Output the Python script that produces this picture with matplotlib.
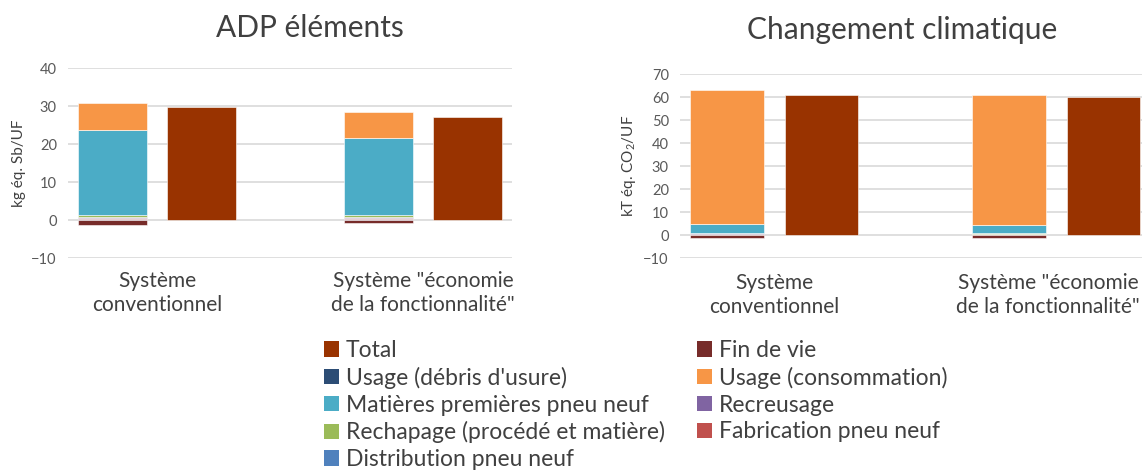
import matplotlib.pyplot as plt
from matplotlib.patches import Patch

plt.rcParams['font.family'] = ['Lato', 'DejaVu Sans']

categories = ['Système\nconventionnel', 'Système "économie\nde la fonctionnalité"']

# stacked contributions (bottom -> top), then the negative end-of-life part
series_names = ['Distribution pneu neuf', 'Fabrication pneu neuf', 'Recreusage',
                'Rechapage (procédé et matière)', 'Matières premières pneu neuf',
                "Usage (débris d'usure)", 'Usage (consommation)']
series_colors = ['#4F81BD', '#C0504D', '#8064A2', '#9BBB59', '#4BACC6', '#2C4D75', '#F79646']

# ADP éléments (kg éq. Sb/UF)
adp_stack = [
    [0.3, 0.3],     # distribution
    [0.2, 0.2],     # fabrication
    [0.3, 0.3],     # recreusage
    [0.6, 0.5],     # rechapage
    [22.3, 20.2],   # matières premières
    [0.05, 0.05],   # usage débris
    [7.1, 7.0],     # usage consommation
]
adp_fin_de_vie = [-1.3, -0.9]
adp_total = [29.7, 27.1]

# Changement climatique (kT éq. CO2/UF)
cc_stack = [
    [0.2, 0.2],
    [0.3, 0.2],
    [0.2, 0.2],
    [0.3, 0.3],
    [3.8, 3.3],
    [0.05, 0.05],
    [58.0, 56.8],
]
cc_fin_de_vie = [-1.2, -1.3]
cc_total = [61.0, 59.9]

fin_color = '#772C2A'
total_color = '#993300'
grid_color = '#D9D9D9'
text_color = '#595959'

fig = plt.figure(figsize=(11.42, 4.70), dpi=100)
ax1 = fig.add_axes([0.0595, 0.451, 0.3888, 0.404])
ax2 = fig.add_axes([0.5954, 0.451, 0.4124, 0.3915])

w = 0.26
off = 0.168


def draw(ax, stack, fin, total, ylim, yticks, ylabel, label_shift, label_drop):
    x = range(len(categories))
    xs = [i - off for i in x]
    xt = [i + off for i in x]
    bottom = [0.0] * len(categories)
    for vals, col in zip(stack, series_colors):
        ax.bar(xs, vals, w, bottom=bottom, color=col, edgecolor='white', linewidth=0.4, zorder=3)
        bottom = [b + v for b, v in zip(bottom, vals)]
    ax.bar(xs, fin, w, color=fin_color, edgecolor='white', linewidth=0.4, zorder=3)
    ax.bar(xt, total, w, color=total_color, edgecolor='white', linewidth=0.4, zorder=3)
    ax.set_xlim(-0.335, 1.335)
    ax.set_ylim(*ylim)
    ax.set_yticks(yticks)
    ax.yaxis.grid(True, color=grid_color, linewidth=1.2, zorder=0)
    for s in ax.spines.values():
        s.set_visible(False)
    ax.tick_params(axis='both', length=0, colors=text_color)
    ax.tick_params(axis='y', labelsize=10.5, pad=8)
    ax.set_xticks([])
    # category labels (the last one nudged left so it stays inside the figure)
    for i, lab in enumerate(categories):
        ax.annotate(lab, xy=(i, 0), xycoords=('data', 'axes fraction'),
                    xytext=(label_shift[i], -label_drop), textcoords='offset points',
                    ha='center', va='top', fontsize=15, color='#404040', linespacing=1.25)
    ax.set_ylabel(ylabel, fontsize=11, color='#404040')


draw(ax1, adp_stack, adp_fin_de_vie, adp_total, (-10, 40), range(-10, 41, 10), 'kg éq. Sb/UF',
     [0, 0], 9)
draw(ax2, cc_stack, cc_fin_de_vie, cc_total, (-10, 70), range(-10, 71, 10),
     r'kT éq. CO$_\mathregular{2}$/UF', [0, -6], 10.5)

fig.text(310 / 1142, 1 - 28 / 470, 'ADP éléments', ha='center', va='center', fontsize=21.5, color='#404040')
fig.text(902 / 1142, 1 - 30 / 470, 'Changement climatique', ha='center', va='center', fontsize=21.5, color='#404040')

# legend: column-major order so rows read like the original
legend_items = [
    ('Total', total_color),
    ("Usage (débris d'usure)", '#2C4D75'),
    ('Matières premières pneu neuf', '#4BACC6'),
    ('Rechapage (procédé et matière)', '#9BBB59'),
    ('Distribution pneu neuf', '#4F81BD'),
    ('Fin de vie', fin_color),
    ('Usage (consommation)', '#F79646'),
    ('Recreusage', '#8064A2'),
    ('Fabrication pneu neuf', '#C0504D'),
]
handles = [Patch(facecolor=c, edgecolor='none', label=l) for l, c in legend_items]
fig.legend(handles=handles, ncol=2, loc='upper left', bbox_to_anchor=(324 / 1142, 1 - 340 / 470),
           frameon=False, fontsize=16.5, labelcolor='#404040', handlelength=0.65, handleheight=0.65,
           handletextpad=0.3, labelspacing=0.25, columnspacing=1.4, borderaxespad=0, borderpad=0)

fig.savefig('out.png', dpi=100)
